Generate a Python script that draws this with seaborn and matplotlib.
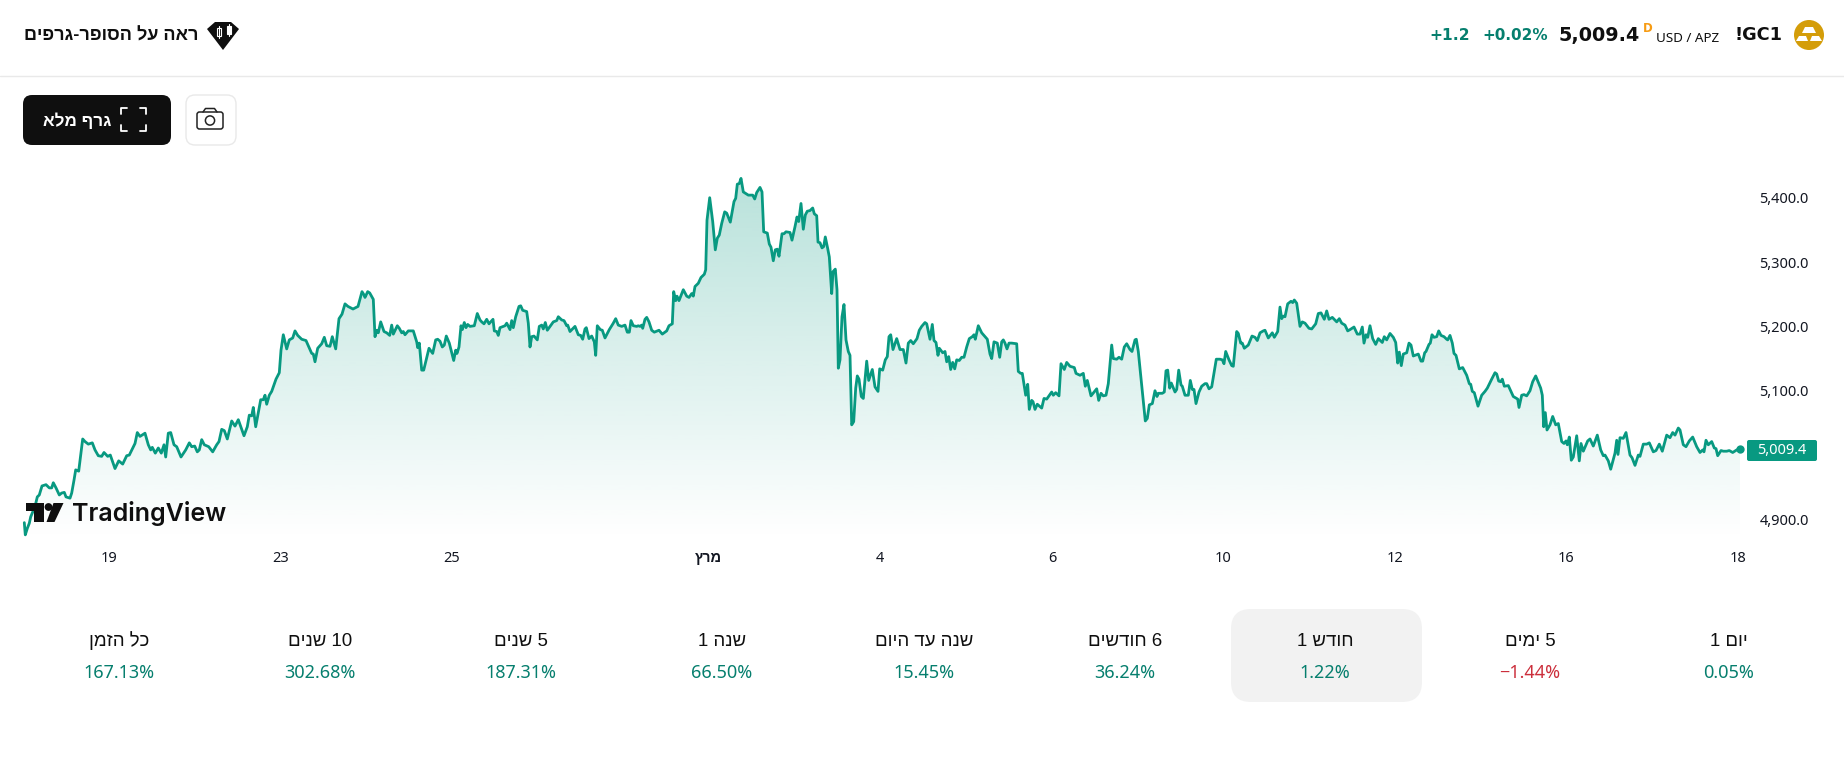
import numpy as np
import pandas as pd
import matplotlib
matplotlib.use("Agg")
import matplotlib.pyplot as plt
import seaborn as sns
from matplotlib.patches import FancyBboxPatch, Polygon, Circle, Rectangle

# ---- data: hourly-like bars (x = bar position), price in USD ----
bars_a = [4.3,5.3,7.3,9.3,10.7,15,17.3,19.3,22,26,29.3,31.7,33.3,36,39.3,41.7,44.3,46,50,51.7,54,55.7,58.7,61,62.7,65,68.3,72.3,75,78.3,81.7,84,87.7,90.3,95,98.7,102.7,106.7,109.3,115,117.3,120,125,128.3,130.7,132.3,135.3,138.3,141.3,144,145.7,148.3,150.7,154,156.7,161,165.7,169.3,171.7,174.7,177.3,179.3,181.7,184.3,188.7,192.7,196.7,199,201.7,204.3,207.3,211.7,215,218.3,224,227.3,229.3,231.7,233.3,235.7,240.7,243.3,245,246.7,249.3,251.7,256,259.3,261,263.3,266.7,269.3,272.7,275,277.7,281.7,286,291.7,293.3,295,297.7,301.7,304.3,306.7,310,312.3,315.7,319,322,325,328,333,338,342,344]
price_a = [4895,4876,4886,4894,4904,4920,4935,4938,4952,4954,4949,4949,4957,4949,4938,4941,4942,4935,4933,4941,4961,4977,4975,5003,5025,5021,5017,5019,5008,4999,4998,5004,4998,5000,4979,4991,4986,4999,5000,5018,5035,5029,5034,5016,5008,5012,5003,5011,5003,5016,4997,5034,5035,5016,5013,4997,5008,5019,5013,5014,5005,5008,5024,5016,5013,5005,5016,5021,5040,5038,5025,5053,5045,5055,5030,5044,5062,5061,5074,5044,5086,5086,5093,5079,5093,5099,5118,5128,5163,5187,5165,5179,5182,5193,5186,5180,5178,5158,5157,5145,5166,5173,5183,5170,5169,5184,5165,5212,5219,5235,5231,5227,5231,5254,5249]

bars_b = [345,347.7,349.7,353.3,355,356.7,358.3,360.7,364,366.7,369.7,371.7,373.3,377.3,379.3,381.7,383.3,385,388.3,393.3,396.7,397.7,399.3,401.7,403.7,409,412.7,415.7,417.7,420,422.3,424.3,426.3,429.3,433.7,435.7,437,439,441,442.3,444.3,446,447.7,450,454.3,457.3,460,461.7,464,466.7,469,473,474.3,476.7,478.3,480,485,486.7,490,491.7,493.3,495.7,499,500.7,502.7,506.7,508.3,510,511.7,514,515.7,517.3,519.3,521.7,523.3,525.3,527.3,533.3,536.7,538.3,541.7,544,546.7,547.7,550,555,558.3,560.7,562.7,565,566.3,569,571.7,574.3,575.7,577.3,580.3,582.3,585,589.3,593.3,595.7,598.3,601.7,605,607.3,609.3,611,613.3,616.7,618.3,620,621.7,622.7,625,626.7,629,631.7,634.3,639,642.3,646.7,649,652.3,653.7,655.7,657,659,663.3,666.7,669,671.7,673.3,675,678.3,681,684.3,685.7]
price_b = [5245,5254,5252,5242,5184,5194,5190,5207,5192,5190,5186,5202,5188,5201,5197,5190,5192,5187,5193,5193,5176,5167,5174,5132,5132,5166,5158,5179,5180,5177,5168,5171,5185,5174,5147,5163,5158,5168,5201,5195,5206,5198,5203,5200,5201,5220,5210,5207,5204,5211,5204,5211,5193,5192,5186,5198,5201,5205,5195,5209,5198,5215,5231,5232,5225,5223,5205,5168,5184,5185,5182,5179,5200,5202,5196,5206,5194,5207,5209,5215,5210,5209,5201,5202,5192,5200,5187,5186,5180,5196,5198,5181,5185,5176,5155,5201,5195,5194,5182,5195,5205,5212,5202,5200,5202,5191,5191,5209,5201,5200,5201,5200,5202,5197,5211,5214,5207,5194,5191,5194,5188,5193,5201,5204,5254,5240,5247,5240,5257,5247,5245,5251,5247,5262,5267,5276,5281,5288]

bars_c = [687,689.7,692.7,695.3,697.3,699.3,701.7,704.7,706.7,710.3,714,715.7,717.3,719.3,721,723.3,728.3,732.7,734.7,736.7,740,742,743.7,747.3,749.3,751,753.3,755.3,757.3,759,762,764,766,770,772,775,777,778.7,781,783.3,785.3,787.3,790,792.7,794.3,796.7,798,800,802,803.7,805.3,807.7,809.3,811.7,813,815.3,817,818.3,820,822,824,826,828.3,830,831.7,833.7,835.7,837.3,839,841.3,843.3,846.7,848.7,852.3,855,858,859.7,862.7,865.3,867.3,869,870.7,873,876.7,880,883.3,886,888.3,890.7,893.3,897,899.3,901.7,905,906.7,910,912.3,914,916,918,919.3,922.7,925,926.7,928.7,930.7,932.7,934.7,936.7,939.3,941.7,944,946.7,949.3,952.3,954,955.3,958.3,961.7,965,967.3,970,971.7,974,977.3,979.7,981.7,983.3,985]
price_c = [5365,5400,5363,5319,5337,5342,5360,5378,5376,5362,5394,5399,5421,5422,5430,5409,5404,5404,5398,5408,5416,5409,5347,5345,5328,5323,5302,5319,5320,5309,5344,5344,5347,5346,5334,5355,5370,5363,5391,5351,5373,5379,5380,5384,5375,5372,5331,5330,5322,5324,5339,5321,5308,5251,5285,5289,5257,5135,5148,5215,5234,5179,5161,5155,5047,5052,5104,5123,5118,5091,5088,5146,5116,5133,5106,5099,5134,5132,5148,5153,5184,5187,5164,5181,5164,5164,5143,5174,5178,5173,5181,5194,5200,5206,5204,5180,5203,5178,5175,5155,5166,5159,5161,5145,5153,5133,5144,5134,5148,5147,5152,5152,5168,5181,5184,5187,5180,5201,5190,5184,5180,5157,5150,5176,5174,5152,5176,5179,5174]

bars_d = [987,989,991.7,996.7,998.3,1000.7,1002.3,1005.7,1007.7,1009.3,1011.7,1013,1015,1017.3,1021.7,1024,1026.7,1031.7,1033.3,1035.7,1039,1041,1044.3,1046.7,1050,1054.3,1056,1060,1063.3,1065.3,1067.3,1071,1076.7,1078.7,1081,1083.3,1086,1088.3,1091.7,1093.3,1096.7,1099,1101.7,1104.3,1106.7,1110,1112,1115,1116.3,1118.3,1125.3,1127.3,1129.3,1132.3,1135,1137,1138.3,1142.3,1144.3,1146,1147.7,1149.7,1151.3,1155,1156.7,1158.7,1161,1162.3,1165,1168.3,1170.3,1172.3,1174,1176,1179,1181.7,1185,1186.7,1189,1191.7,1196.3,1200,1202.3,1204,1205.7,1209,1211.7,1213.3,1216.7,1218.3,1220.7,1222.3,1224.3,1228.3,1232,1235,1237.3,1240,1243.3,1245,1248.3,1252.3,1254.3,1257.7,1260,1261.7,1263.3,1265,1267.7,1271,1272.7,1274.3,1276.7,1280,1282.3,1285,1289,1291.7,1295.7,1298.3,1301,1304.3,1306.7,1309,1312.3,1316.7,1319.3,1321.7,1325,1327.7,1330]
price_d = [5165,5174,5174,5173,5130,5127,5127,5093,5110,5071,5085,5083,5071,5079,5073,5088,5087,5098,5093,5097,5092,5142,5133,5144,5138,5136,5127,5124,5127,5107,5116,5092,5103,5085,5096,5092,5093,5111,5171,5150,5149,5152,5149,5168,5173,5164,5161,5179,5180,5161,5053,5057,5078,5080,5100,5091,5096,5096,5098,5131,5132,5104,5112,5098,5102,5132,5109,5107,5093,5093,5116,5102,5102,5080,5098,5107,5111,5111,5103,5106,5149,5149,5148,5142,5161,5148,5139,5138,5192,5189,5174,5174,5166,5171,5185,5183,5178,5190,5193,5194,5182,5190,5183,5192,5230,5212,5216,5215,5235,5239,5237,5241,5236,5200,5207,5205,5197,5196,5204,5220,5221,5211,5224,5211,5214,5207,5212,5205,5202,5193,5195]

bars_e = [1334,1337.3,1340,1342.3,1344,1346,1347.7,1350,1352.7,1355.7,1358.3,1362.3,1364.3,1366.7,1370,1373.3,1375.7,1377.7,1379.3,1381.3,1383.3,1386.7,1389,1391,1393.3,1398.3,1401,1402.7,1404.7,1406,1409,1410.3,1412,1414,1416.7,1418.7,1421,1424,1426.7,1427.7,1430,1432.3,1434,1436,1439.3,1442.7,1446.7,1449.3,1450.7,1452.3,1454.3,1458,1461.7,1465,1467.3,1471.7,1475,1476.7,1478.7,1480.7,1482.3,1484.3,1488.3,1493.3,1497.7,1499,1501.7,1504,1506.7,1510,1512.7,1515.7,1520.7,1522.3,1523.7,1525.3,1527,1530,1532.7,1535.7,1538.3,1541.7,1544,1546,1547.3,1549.3,1551.3,1553.3,1556.7,1559.3,1561,1563.3,1567.7,1570,1573.3,1577.3,1580.7,1583.3,1585,1588.3,1590.7,1595,1596.7,1598,1600,1603.3,1606,1610,1612,1615,1618.3,1620,1623.3,1626.7,1629.3,1633.3,1636,1639.3,1642.3,1646.7,1650,1652.7,1655,1658.3,1660,1663.3,1666,1669.3,1672.7,1676.7,1680,1682.7,1684,1686,1688.3,1691.7,1694.3,1696,1697.7,1701,1703.3,1706.7,1709.3,1712.7,1716.7,1720]
price_e = [5199,5188,5188,5199,5174,5187,5183,5201,5181,5172,5181,5175,5184,5179,5189,5183,5175,5143,5160,5139,5157,5159,5174,5171,5154,5157,5146,5146,5159,5161,5172,5174,5187,5183,5184,5193,5186,5184,5180,5179,5186,5174,5158,5155,5134,5136,5124,5111,5110,5099,5097,5076,5093,5099,5104,5118,5128,5126,5115,5114,5118,5107,5108,5091,5087,5074,5093,5094,5092,5100,5114,5123,5104,5093,5044,5066,5039,5047,5060,5047,5049,5021,5018,5022,5016,5028,4992,4997,5030,4991,5018,5006,5022,5025,5014,5031,5008,4999,5000,4991,4978,5003,5023,5001,5027,5026,5035,5000,4996,4984,5000,4998,5017,5017,5019,5005,5007,5017,5006,5031,5027,5035,5031,5042,5039,5016,5013,5022,5028,5013,5004,5008,5005,5023,5016,5021,5011,5010,4999,5007,5006,5006,5007,5004,5008,5009.4]

for name, xs, ys in [("a",bars_a,price_a),("b",bars_b,price_b),("c",bars_c,price_c),("d",bars_d,price_d),("e",bars_e,price_e)]:
    if len(xs) != len(ys):
        raise SystemExit(f"segment {name}: {len(xs)} vs {len(ys)}")

y_ticks = [4900, 5100, 5200, 5300, 5400]
y_labels = ["4,900.0", "5,100.0", "5,200.0", "5,300.0", "5,400.0"]
x_tick_bars = [89.4, 261, 432, 689, 860, 1032, 1203, 1375, 1546, 1718]
x_tick_text = ["19", "23", "25", "מרץ", "4", "6", "10", "12", "16", "18"]
period_names = ["כל הזמן", "10 שנים", "5 שנים", "שנה 1", "שנה עד היום", "6 חודשים", "חודש 1", "5 ימים", "יום 1"]
period_values = ["167.13%", "302.68%", "187.31%", "66.50%", "15.45%", "36.24%", "1.22%", "−1.44%", "0.05%"]

UP = "#089981"; UPTXT = "#067F6E"; DOWN = "#CC2F3C"; INK = "#0F0F0F"


def rtl(s):
    """matplotlib has no bidi layout: give it the Hebrew in visual order."""
    out = []
    for tok in s.split(" ")[::-1]:
        out.append(tok[::-1] if any("\u0590" <= c <= "\u05ff" for c in tok) else tok)
    return " ".join(out)


sns.set_theme(style="white")
plt.rcParams["font.family"] = ["Noto Sans", "Liberation Sans", "DejaVu Sans"]
HEB = ["Liberation Sans", "DejaVu Sans"]
BOLD = ["DejaVu Sans"]

W, H = 1844, 760
fig = plt.figure(figsize=(W / 100, H / 100), dpi=100, facecolor="white")

# ---- price axes (px 20..1740, 160..540) ----
ax = fig.add_axes([20 / W, 1 - 540 / H, 1720 / W, 380 / H])
t = np.concatenate([bars_a, bars_b, bars_c, bars_d, bars_e])
p = np.concatenate([price_a, price_b, price_c, price_d, price_e])
df = pd.DataFrame({"bar": t, "price": p})
ymin, ymax = 4868.0, 5458.6
ax.set_xlim(0, 1720)
ax.set_ylim(ymin, ymax)

grad = np.zeros((256, 1, 4))
grad[..., 0], grad[..., 1], grad[..., 2] = 8 / 255, 153 / 255, 129 / 255
grad[:, 0, 3] = np.linspace(0.30, 0.0, 256)
fill = ax.fill_between(t, p, ymin, color="none", lw=0)
im = ax.imshow(grad, extent=[0, 1720, ymin, ymax], aspect="auto", origin="upper", zorder=1, interpolation="bilinear")
im.set_clip_path(fill.get_paths()[0], transform=ax.transData)
ax.set_xlim(0, 1720)
ax.set_ylim(ymin, ymax)

sns.lineplot(data=df, x="bar", y="price", ax=ax, color=UP, lw=2.0, sort=False, estimator=None, errorbar=None, zorder=3)
sns.scatterplot(x=t[-1:], y=p[-1:], ax=ax, color=UP, s=36, linewidth=0, zorder=4, clip_on=False)

ax.set_xlabel(""); ax.set_ylabel("")
ax.yaxis.tick_right()
ax.set_yticks(y_ticks, y_labels)
ax.set_xticks(x_tick_bars, [rtl(s) for s in x_tick_text])
ax.tick_params(axis="y", length=0, pad=14, labelsize=10.5, labelcolor="#131722")
ax.tick_params(axis="x", length=0, pad=8, labelsize=10.5, labelcolor="#131722")
ax.get_xticklabels()[3].set_fontweight("bold")
for sp in ax.spines.values():
    sp.set_visible(False)
ax.patch.set_alpha(0)
ax.grid(False)

# ---- page chrome in pixel coordinates ----
ui = fig.add_axes([0, 0, 1, 1], zorder=5)
ui.set_xlim(0, W); ui.set_ylim(H, 0); ui.axis("off"); ui.patch.set_alpha(0)


def rbox(x0, y0, x1, y1, r, fc, ec="none", lw=0):
    ui.add_patch(FancyBboxPatch((x0 + r, y0 + r), x1 - x0 - 2 * r, y1 - y0 - 2 * r,
                                boxstyle=f"round,pad={r},rounding_size={r}", fc=fc, ec=ec, lw=lw))


def txt(x, y, s, size, color=INK, weight="normal", ha="center", family=None):
    return ui.text(x, y, s, fontsize=size, color=color, fontweight=weight, ha=ha, va="center",
                   family=family or ["Noto Sans", "Liberation Sans", "DejaVu Sans"])


ui.plot([0, W], [75.5, 75.5], color="#E9E9E9", lw=1)

# top-left link
txt(198, 36, rtl("ראה על הסופר-גרפים"), 13.1, weight="bold", ha="right", family=HEB)
ui.add_patch(Polygon([(207, 29), (215, 22), (231, 22), (239, 29), (223, 50)], fc=INK, ec="none"))
for cx, cy, hh in [(219, 32, 4), (229, 30, 4)]:
    ui.plot([cx, cx], [cy - hh - 2, cy + hh + 2], color="white", lw=0.8)
    ui.add_patch(Rectangle((cx - 2, cy - hh), 4, 2 * hh, fc="white" if cx > 220 else INK, ec="white", lw=0.8))

# full-chart button
rbox(23, 95, 171, 145, 9, INK)
txt(77, 121, rtl("גרף מלא"), 12.3, color="white", weight="bold", family=HEB)
for (x0, y0, dx, dy) in [(121, 108, 1, 1), (146, 108, -1, 1), (121, 131, 1, -1), (146, 131, -1, -1)]:
    ui.plot([x0 + 6 * dx, x0, x0], [y0, y0, y0 + 6 * dy], color="white", lw=1.3, solid_capstyle="round", solid_joinstyle="round")

# camera button
rbox(186, 95, 236, 145, 9, "white", ec="#E9E9E9", lw=1)
rbox(197, 112, 223, 129, 2.5, "white", ec="#222222", lw=1.1)
ui.plot([203, 205.5, 214.5, 217], [112, 108.5, 108.5, 112], color="#222222", lw=1.1)
ui.add_patch(Circle((210, 120.5), 4.6, fc="white", ec="#222222", lw=1.1))

# top-right quote
txt(1470, 35, "+1.2", 11.2, color=UPTXT, weight="bold", ha="right", family=BOLD)
txt(1548, 35, "+0.02%", 11, color=UPTXT, weight="bold", ha="right", family=BOLD)
txt(1640, 35, "5,009.4", 13.8, weight="bold", ha="right", family=BOLD)
txt(1643, 29, "D", 8.4, color="#F79B12", weight="bold", ha="left", family=BOLD)
txt(1656, 38, "USD / APZ", 9.7, ha="left")
txt(1782, 35, "!GC1", 12.8, weight="bold", ha="right", family=BOLD)
ui.add_patch(Circle((1809, 35), 15, fc="#D49D09", ec="none"))
ui.add_patch(Polygon([(1805, 27), (1813, 27), (1816, 33), (1802, 33)], fc="white", ec="none"))
ui.add_patch(Polygon([(1799, 36), (1806, 36), (1808, 41), (1796, 41)], fc="white", ec="none"))
ui.add_patch(Polygon([(1812, 36), (1819, 36), (1822, 41), (1810, 41)], fc="white", ec="none"))

# last-price badge
rbox(1747, 440, 1817, 461, 2, UP)
txt(1782, 450, "5,009.4", 10.5, color="white")

# TradingView mark
ui.add_patch(Polygon([(26, 503), (43.5, 503), (43.5, 522), (33.5, 522), (33.5, 511), (26, 511)], fc=INK, ec="none"))
ui.add_patch(Circle((48.5, 507), 3.9, fc=INK, ec="none"))
ui.add_patch(Polygon([(53.5, 503), (63.5, 503), (54.5, 522), (46.5, 522)], fc=INK, ec="none"))
txt(71.5, 514, "TradingView", 18, weight="semibold", ha="left", family=["Inter", "DejaVu Sans"])

# period strip
rbox(1231, 609, 1422, 702, 20, "#F2F2F2")
col_x = [119, 320, 521, 722, 924, 1125, 1325, 1530, 1729]
for cx, name, val in zip(col_x, period_names, period_values):
    txt(cx, 641, rtl(name), 13.4, family=HEB)
    txt(cx, 673, val, 13, color=DOWN if val.startswith("−") else UPTXT)

fig.savefig("out.png", dpi=100, facecolor="white")
